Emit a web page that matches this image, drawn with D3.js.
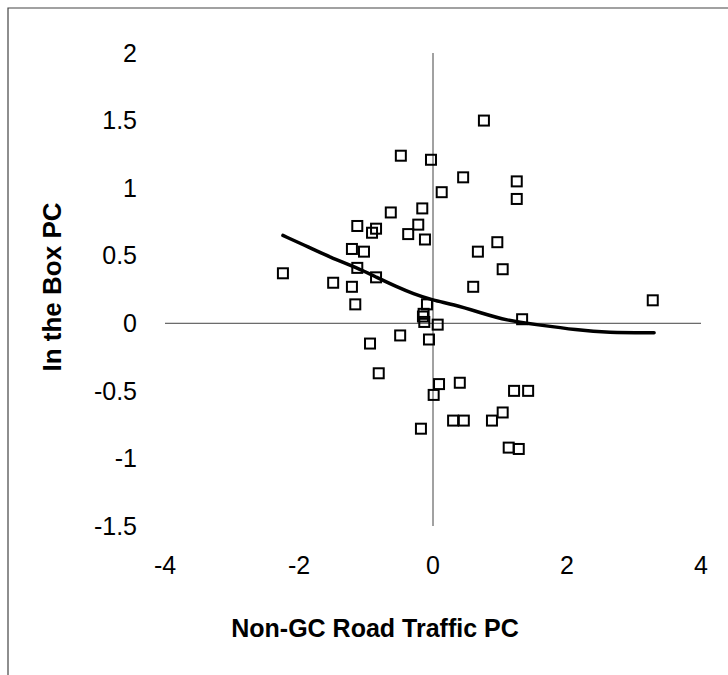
<!DOCTYPE html>
<html><head><meta charset="utf-8">
<script src="https://cdn.jsdelivr.net/npm/d3@7"></script>
<style>body{margin:0;background:#fff}svg{display:block}</style>
</head><body>
<script>
const xTicks = [-4, -2, 0, 2, 4];
const yTicks = [-1.5, -1, -0.5, 0, 0.5, 1, 1.5, 2];
const xLabel = "Non-GC Road Traffic PC";
const yLabel = "In the Box PC";

const pointsX = [-2.24,-1.49,-1.21,-1.16,-1.13,-1.21,-1.03,-1.13,-0.91,-0.85,-0.85,-0.63,-0.48,-0.03,-0.16,-0.22,-0.37,-0.12,0.13,-0.09,-0.15,-0.13,0.07,-0.49,-0.94,-0.06,-0.81,0.09,0.01,0.40,0.30,0.46,0.88,1.04,1.13,1.28,1.21,1.42,-0.18,0.76,0.45,1.25,1.25,0.96,0.67,1.04,0.60,3.28,1.33,-0.14];
const pointsY = [0.37,0.30,0.27,0.14,0.41,0.55,0.53,0.72,0.67,0.70,0.34,0.82,1.24,1.21,0.85,0.73,0.66,0.62,0.97,0.14,0.05,0.01,-0.01,-0.09,-0.15,-0.12,-0.37,-0.45,-0.53,-0.44,-0.72,-0.72,-0.72,-0.66,-0.92,-0.93,-0.50,-0.50,-0.78,1.50,1.08,1.05,0.92,0.60,0.53,0.40,0.27,0.17,0.03,0.07];

const curveX = [-2.24,-1.84,-1.54,-1.13,-0.84,-0.54,-0.30,0,0.30,0.70,1.10,1.55,2.15,2.6,3.3];
const curveY = [0.65,0.56,0.49,0.41,0.34,0.27,0.22,0.17,0.14,0.08,0.02,-0.01,-0.05,-0.07,-0.07];

const W = 728, H = 675;
const svg = d3.select("body").append("svg").attr("width", W).attr("height", H);

// outer frame
svg.append("path").attr("d","M8,690 L8,8 L740,8").attr("fill","none").attr("stroke","#444").attr("stroke-width",1.2);

const x = d3.scaleLinear().domain([-4,4]).range([165,701]);
const y = d3.scaleLinear().domain([-1.5,2]).range([526,53]);

// axis lines through origin
svg.append("line").attr("x1",x(-4)).attr("x2",x(4)).attr("y1",y(0)).attr("y2",y(0)).attr("stroke","#444").attr("stroke-width",1);
svg.append("line").attr("x1",x(0)).attr("x2",x(0)).attr("y1",y(2)).attr("y2",y(-1.5)).attr("stroke","#444").attr("stroke-width",1);

const font = "'Liberation Sans', Arial, sans-serif";
// y tick labels
svg.append("g").selectAll("text").data(yTicks).join("text")
  .attr("x",137).attr("y",d=>y(d)).attr("dy","0.35em")
  .attr("text-anchor","end").attr("font-family",font).attr("font-size",25).attr("fill","#000")
  .text(d=>String(d));
// x tick labels
svg.append("g").selectAll("text").data(xTicks).join("text")
  .attr("x",d=>x(d)).attr("y",574)
  .attr("text-anchor","middle").attr("font-family",font).attr("font-size",25).attr("fill","#000")
  .text(d=>String(d));

svg.append("text").attr("x",375).attr("y",637).attr("text-anchor","middle")
  .attr("font-family",font).attr("font-weight","bold").attr("font-size",25).text(xLabel);
svg.append("text").attr("transform","translate(61,287) rotate(-90)").attr("text-anchor","middle")
  .attr("font-family",font).attr("font-weight","bold").attr("font-size",26).text(yLabel);

// curve
const curve = curveX.map((v,i)=>[v,curveY[i]]);
svg.append("path").datum(curve)
  .attr("d", d3.line().x(d=>x(d[0])).y(d=>y(d[1])).curve(d3.curveBasis))
  .attr("fill","none").attr("stroke","#000").attr("stroke-width",3.5).attr("stroke-linejoin","round").attr("stroke-linecap","round");

// points
const pts = pointsX.map((v,i)=>[v,pointsY[i]]);
const s = 10;
svg.append("g").selectAll("rect").data(pts).join("rect")
  .attr("x",d=>x(d[0])-s/2).attr("y",d=>y(d[1])-s/2).attr("width",s).attr("height",s)
  .attr("fill","none").attr("stroke","#000").attr("stroke-width",2);
</script>
</body></html>
